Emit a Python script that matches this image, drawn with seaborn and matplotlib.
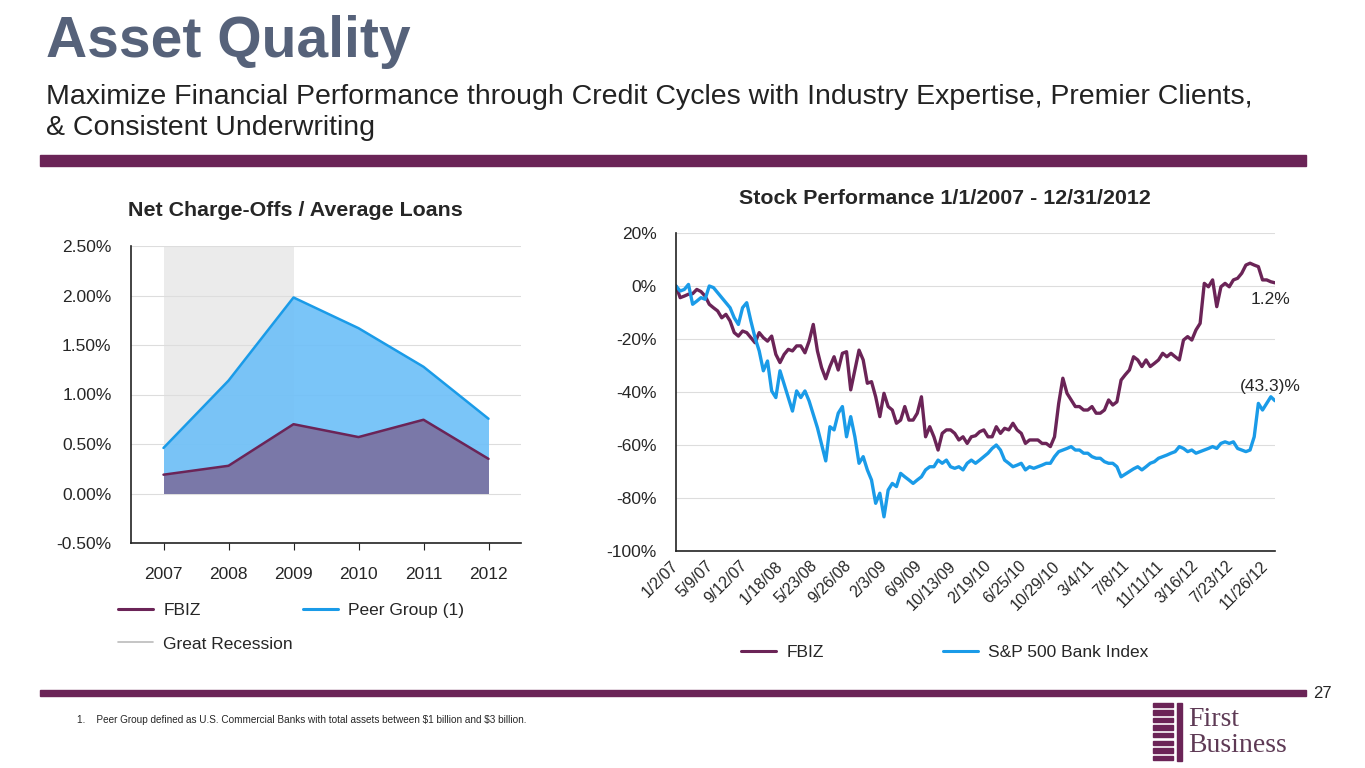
import numpy as np
import pandas as pd
import seaborn as sns
import matplotlib.pyplot as plt
import matplotlib.transforms as mtransforms
from matplotlib.lines import Line2D
from matplotlib.patches import Rectangle

sns.set_style("white")
plt.rcParams['font.family'] = ['Liberation Sans', 'DejaVu Sans']

PURPLE = '#6b2457'
BLUE = '#1a9be8'
W, H = 1365, 768

# Net charge-offs / average loans (%)
years = ['2007', '2008', '2009', '2010', '2011', '2012']
fbiz_nco = [0.19, 0.28, 0.70, 0.57, 0.745, 0.35]
peer_nco = [0.46, 1.14, 1.98, 1.67, 1.28, 0.755]

# Stock performance (cumulative %), read twice a month, 1/2/2007 - 12/31/2012
fbiz_perf = [0, -4.4, -3.8, -3.1, -2.9, -1.3, -2.1, -3.8, -6.9, -8.2, -9.4, -12,
             -10.7, -13.2, -17.6, -18.9, -17, -17.6, -19.5, -21.4, -17.6, -19.5, -20.8, -18.9,
             -25.8, -28.9, -25.8, -23.9, -24.5, -22.6, -22.6, -25.2, -20.8, -14.5, -24.5, -30.8,
             -35, -30.4, -26.7, -31.7, -25.4, -24.8, -39.2, -31.7, -24.2, -27.9, -36.7, -36.1,
             -41.8, -49.3, -40.5, -45.5, -46.8, -51.8, -50.6, -45.5, -50.6, -50.6, -48, -41.8,
             -56.9, -53.1, -56.9, -61.9, -55.6, -54.3, -54.3, -55.6, -58.1, -56.9, -59.4, -56.9,
             -56.5, -55, -54.3, -56.9, -56.9, -53.1, -55.6, -53.7, -54.3, -51.8, -54.3, -55.6,
             -59.4, -58.1, -58.1, -58.1, -59.4, -59.4, -60.6, -56.9, -44.3, -34.8, -40.5, -43,
             -45.5, -45.5, -46.8, -46.8, -45.5, -48, -48, -46.8, -43, -44.9, -43.7, -35.5,
             -33.5, -31.7, -26.7, -27.9, -30.4, -27.9, -30.4, -29.2, -27.9, -25.4, -26.7, -25.4,
             -26.7, -27.9, -20.4, -19.1, -20.4, -16.6, -14.1, 1, -0.3, 2.3, -7.8, -0.3,
             1, -0.3, 2.3, 2.9, 4.8, 7.9, 8.6, 7.9, 7.3, 2.3, 2.3, 1.6,
             1.2]
bank_perf = [0, -1.9, -1.3, 0.6, -6.9, -5.7, -4.4, -5, 0, -0.6, -2.5, -4.4,
             -6.3, -8.2, -12, -14.5, -8.2, -6.3, -13.2, -19.5, -24.5, -32, -28.3, -39.6,
             -42.1, -32, -37.1, -42.1, -47.2, -39.6, -42.1, -39.6, -43.4, -48.4, -53.5, -59.8,
             -66, -53.1, -54.3, -48, -45.5, -56.9, -49.3, -56.9, -66.9, -64.4, -69.4, -73.2,
             -82, -78.2, -87.1, -77, -74.5, -75.7, -70.7, -72, -73.2, -74.5, -73.2, -72,
             -69.4, -68.2, -68.2, -65.7, -66.9, -65.7, -68.2, -68.8, -68.2, -69.4, -66.9, -65.7,
             -66.9, -65.7, -64.4, -63.1, -61.3, -60, -61.9, -65.7, -66.9, -68.2, -67.6, -66.9,
             -69.4, -68.2, -68.8, -68.2, -67.6, -66.9, -66.9, -64.4, -62.5, -61.9, -61.3, -60.6,
             -61.9, -61.9, -63.1, -63.1, -64.4, -65, -65, -66.3, -66.9, -66.9, -68.2, -72,
             -71, -70, -69, -68.2, -69.4, -68.2, -66.9, -66.3, -65, -64.4, -63.8, -63.1,
             -62.5, -60.6, -61.3, -62.5, -61.9, -63.1, -62.5, -61.9, -61.3, -60.6, -61.3, -59.4,
             -58.8, -59.4, -58.8, -61.3, -61.9, -62.5, -61.9, -56.9, -44.3, -46.8, -44.3, -41.8,
             -43.3]
tick_dates = ['1/2/07', '5/9/07', '9/12/07', '1/18/08', '5/23/08', '9/26/08', '2/3/09',
              '6/9/09', '10/13/09', '2/19/10', '6/25/10', '10/29/10', '3/4/11', '7/8/11',
              '11/11/11', '3/16/12', '7/23/12', '11/26/12']


def fx(px):
    return px / W


def fy(py):
    return 1 - py / H


fig = plt.figure(figsize=(13.65, 7.68), dpi=100)
fig.patch.set_facecolor('white')

# page header
fig.text(fx(46), fy(42), 'Asset Quality', fontsize=41, fontweight='bold', color='#56627a', va='center')
fig.text(fx(46), fy(97), 'Maximize Financial Performance through Credit Cycles with Industry Expertise, Premier Clients,',
         fontsize=20.5, color='#222222', va='center')
fig.text(fx(46), fy(128), '& Consistent Underwriting', fontsize=20.5, color='#222222', va='center')
fig.patches.append(Rectangle((fx(40), fy(166)), fx(1266), 11 / H, transform=fig.transFigure, color=PURPLE))
fig.patches.append(Rectangle((fx(40), fy(696)), fx(1266), 6 / H, transform=fig.transFigure, color=PURPLE))
fig.text(fx(1322), fy(693), '27', fontsize=12, va='center', ha='center')
fig.text(fx(77), fy(720), r'1.    Peer Group defined as U.S. Commercial Banks with total assets between \$1 billion and \$3 billion.',
         fontsize=7.2, va='center')
# logo
for i in range(8):
    fig.patches.append(Rectangle((fx(1153), fy(707 + i * 7.6)), fx(20), 4.5 / H,
                                 transform=fig.transFigure, color=PURPLE))
fig.patches.append(Rectangle((fx(1177), fy(761)), fx(5), 58 / H, transform=fig.transFigure, color=PURPLE))
fig.text(fx(1188), fy(720), 'First', fontsize=20, family='Liberation Serif', color='#5e3a55', va='center')
fig.text(fx(1188), fy(746), 'Business', fontsize=20, family='Liberation Serif', color='#5e3a55', va='center')

# ---- left chart ----
ax1 = fig.add_axes([fx(131), fy(543), fx(390), 297 / H])
x = np.arange(len(years))
ax1.add_patch(Rectangle((0, 0), 2, 2.5, color='#ebebeb', zorder=0, lw=0))
ax1.fill_between(x, peer_nco, color='#6fc0f8', alpha=0.92, zorder=1, lw=0)
ax1.fill_between(x, fbiz_nco, color='#7a78a8', zorder=2, lw=0)
sns.lineplot(x=x, y=peer_nco, ax=ax1, color=BLUE, lw=1.8, zorder=3)
sns.lineplot(x=x, y=fbiz_nco, ax=ax1, color=PURPLE, lw=1.8, zorder=4)
ax1.set_xlim(-0.5, 5.5)
ax1.set_ylim(-0.5, 2.5)
ax1.set_xticks(x)
ax1.set_xticklabels(years)
yt = np.arange(-0.5, 2.51, 0.5)
ax1.set_yticks(yt)
ax1.set_yticklabels([f'{v:.2f}%' for v in yt])
ax1.grid(axis='y', color='#dddddd', lw=0.8)
ax1.set_axisbelow(True)
for s in ['top', 'right']:
    ax1.spines[s].set_visible(False)
for s in ['left', 'bottom']:
    ax1.spines[s].set_color('#222222')
    ax1.spines[s].set_linewidth(1.2)
ax1.tick_params(axis='both', labelsize=12.5, length=5, color='#222222', direction='out',
                bottom=True, left=True)
ax1.tick_params(axis='x', pad=12)
ax1.tick_params(axis='y', pad=14, length=0)
fig.text(fx(295), fy(211), 'Net Charge-Offs / Average Loans', fontsize=15.4, fontweight='bold',
         ha='center', va='center')
h1 = [Line2D([], [], color=PURPLE, lw=2.2), Line2D([], [], color='#bbbbbb', lw=1.2),
      Line2D([], [], color=BLUE, lw=2.2)]
fig.legend(h1, ['FBIZ', 'Great Recession', 'Peer Group (1)'], ncol=2, frameon=False,
           loc='upper left', bbox_to_anchor=(fx(118), fy(603)), bbox_transform=fig.transFigure,
           fontsize=12.5, handlelength=2.0, handletextpad=0.6, borderpad=0, borderaxespad=0,
           labelspacing=1.05, columnspacing=0.6)

# ---- right chart ----
ax2 = fig.add_axes([fx(676), fy(551), fx(599), 318 / H])
dates = pd.date_range('2007-01-02', '2012-12-31', periods=len(fbiz_perf))
df = pd.DataFrame({'date': list(dates) * 2,
                   'perf': fbiz_perf + bank_perf,
                   'series': ['FBIZ'] * len(fbiz_perf) + ['S&P 500 Bank Index'] * len(bank_perf)})
sns.lineplot(data=df, x='date', y='perf', hue='series', hue_order=['FBIZ', 'S&P 500 Bank Index'],
             palette=[PURPLE, BLUE], lw=2.4, ax=ax2, legend=False)
ax2.set_xlim(pd.Timestamp('2007-01-02'), pd.Timestamp('2012-12-31'))
ax2.set_ylim(-100, 20)
ax2.set_yticks(range(-100, 21, 20))
ax2.set_yticklabels([f'{v}%' for v in range(-100, 21, 20)])
tk = [pd.to_datetime(t, format='%m/%d/%y') for t in tick_dates]
ax2.set_xticks(tk)
ax2.set_xticklabels(tick_dates, rotation=45, ha='right', va='center', rotation_mode='anchor')
shift = mtransforms.ScaledTranslation(-0.07, 0, fig.dpi_scale_trans)
for lab in ax2.get_xticklabels():
    lab.set_transform(lab.get_transform() + shift)
ax2.grid(axis='y', color='#dddddd', lw=0.8)
ax2.grid(axis='x', visible=False)
for s in ['top', 'right']:
    ax2.spines[s].set_visible(False)
for s in ['left', 'bottom']:
    ax2.spines[s].set_color('#222222')
    ax2.spines[s].set_linewidth(1.2)
ax2.tick_params(axis='x', labelsize=11.5, length=0, pad=9)
ax2.tick_params(axis='y', labelsize=12.5, length=0, pad=14)
ax2.set_xlabel('')
ax2.set_ylabel('')
fig.text(fx(945), fy(198), 'Stock Performance 1/1/2007 - 12/31/2012', fontsize=15.4, fontweight='bold',
         ha='center', va='center')
fig.text(fx(1270), fy(300), '1.2%', fontsize=12.5, ha='center', va='center')
fig.text(fx(1270), fy(386), '(43.3)%', fontsize=12.5, ha='center', va='center')
h2 = [Line2D([], [], color=PURPLE, lw=2.2), Line2D([], [], color=BLUE, lw=2.2)]
fig.legend(h2, ['FBIZ', 'S&P 500 Bank Index'], ncol=2, frameon=False, loc='upper left',
           bbox_to_anchor=(fx(741), fy(645)), bbox_transform=fig.transFigure, fontsize=12.5,
           handlelength=2.0, handletextpad=0.6, borderpad=0, borderaxespad=0, columnspacing=6.9)

fig.savefig('out.png', dpi=100, facecolor='white')
